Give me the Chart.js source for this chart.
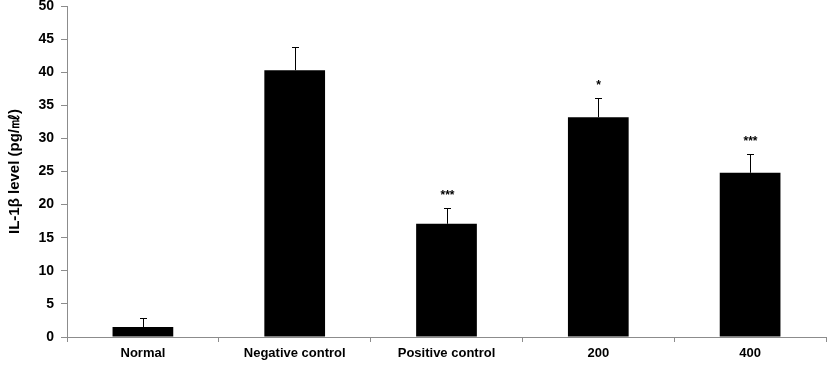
<!DOCTYPE html>
<html>
<head>
<meta charset="utf-8">
<script src="https://cdn.jsdelivr.net/npm/chart.js@4"></script>
<style>
  html, body { margin: 0; padding: 0; background: #fff; }
  #wrap { width: 827px; height: 366px; position: relative; }
</style>
</head>
<body>
<div id="wrap"><canvas id="cv"></canvas></div>
<script>
  const groups = ["Normal", "Negative control", "Positive control", "200", "400"];
  const levels = [1.5, 40.3, 17.1, 33.2, 24.8];
  const errors = [1.4, 3.5, 2.4, 2.9, 2.8];
  const marks = ["", "", "***", "*", "***"];
  const yTicks = [0, 5, 10, 15, 20, 25, 30, 35, 40, 45, 50];

  const FONT = "'Liberation Sans', Arial, sans-serif";

  // upward error bars + significance stars
  const errorBars = {
    id: "errorBars",
    afterDatasetsDraw(chart) {
      const { ctx, scales } = chart;
      const meta = chart.getDatasetMeta(0);
      ctx.save();
      ctx.strokeStyle = "#000";
      ctx.lineWidth = 1;
      meta.data.forEach((bar, i) => {
        const x = Math.round(bar.x) + 0.5;
        const yTop = scales.y.getPixelForValue(levels[i]);
        const yErr = Math.round(scales.y.getPixelForValue(levels[i] + errors[i])) + 0.5;
        ctx.beginPath();
        ctx.moveTo(x, yTop);
        ctx.lineTo(x, yErr);
        ctx.moveTo(x - 3.5, yErr);
        ctx.lineTo(x + 3.5, yErr);
        ctx.stroke();
        if (marks[i]) {
          ctx.fillStyle = "#000";
          ctx.font = "bold 12px " + FONT;
          ctx.textAlign = "center";
          ctx.textBaseline = "alphabetic";
          ctx.fillText(marks[i], x, yErr - 10);
        }
      });
      ctx.restore();
    }
  };

  new Chart(document.getElementById("cv"), {
    type: "bar",
    data: {
      labels: groups,
      datasets: [{
        data: levels,
        backgroundColor: "#000",
        borderColor: "#000",
        borderWidth: 0,
        barPercentage: 0.4,
        categoryPercentage: 1
      }]
    },
    options: {
      responsive: true,
      maintainAspectRatio: false,
      animation: false,
      layout: { padding: { top: 6, right: 1, left: 0, bottom: 0 } },
      plugins: { legend: { display: false }, tooltip: { enabled: false } },
      scales: {
        x: {
          grid: {
            offset: true,
            drawOnChartArea: false,
            drawTicks: true,
            tickLength: 5,
            color: "#8c8c8c"
          },
          border: { color: "#8c8c8c" },
          ticks: {
            color: "#000",
            font: { family: FONT, size: 13, weight: "bold" },
            padding: 4,
            maxRotation: 0
          },
          afterFit(s) { s.height = 29; s.paddingLeft = 0; s.paddingRight = 0; }
        },
        y: {
          min: 0,
          max: 50,
          afterBuildTicks(s) { s.ticks = yTicks.map(v => ({ value: v })); },
          grid: {
            drawOnChartArea: false,
            drawTicks: true,
            tickLength: 6,
            color: "#8c8c8c"
          },
          border: { color: "#8c8c8c" },
          ticks: {
            color: "#000",
            font: { family: FONT, size: 14, weight: "bold" },
            padding: 7
          },
          title: {
            display: true,
            text: "IL-1β level (pg/㎖)",
            color: "#000",
            font: { family: FONT, size: 15, weight: "bold" },
            padding: { top: 6, bottom: 4 }
          },
          afterFit(s) { s.width = 67; s.paddingTop = 0; s.paddingBottom = 0; }
        }
      }
    },
    plugins: [errorBars]
  });
</script>
</body>
</html>
